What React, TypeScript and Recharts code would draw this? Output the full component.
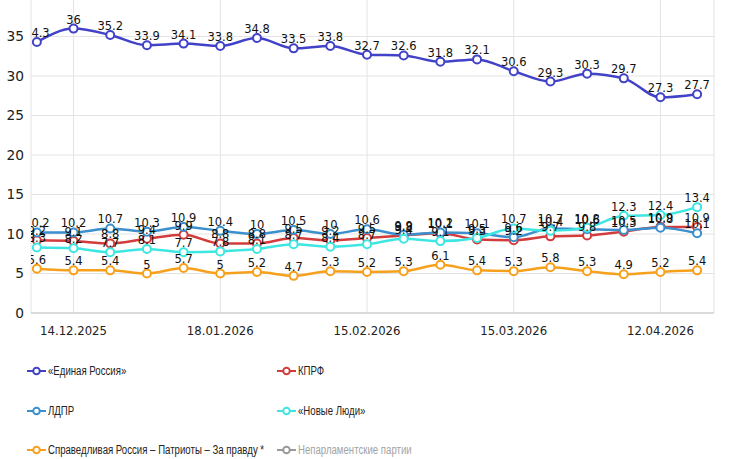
import { LineChart, Line, XAxis, YAxis, CartesianGrid, LabelList } from "recharts";

const dates = [
  "07.12.2025", "14.12.2025", "21.12.2025", "28.12.2025", "11.01.2026",
  "18.01.2026", "25.01.2026", "01.02.2026", "08.02.2026", "15.02.2026",
  "22.02.2026", "01.03.2026", "08.03.2026", "15.03.2026", "22.03.2026",
  "29.03.2026", "05.04.2026", "12.04.2026", "19.04.2026",
];
const tickIdx = [1, 5, 9, 13, 17];
const yTicks = [0, 5, 10, 15, 20, 25, 30, 35];

const er = [34.3, 36, 35.2, 33.9, 34.1, 33.8, 34.8, 33.5, 33.8, 32.7, 32.6, 31.8, 32.1, 30.6, 29.3, 30.3, 29.7, 27.3, 27.7];
const kprf = [9.2, 9.1, 8.8, 9.4, 9.9, 8.8, 8.8, 9.5, 9.2, 9.5, 9.8, 10.1, 9.3, 9.2, 9.7, 9.8, 10.3, 10.9, 10.9];
const ldpr = [10.2, 10.2, 10.7, 10.3, 10.9, 10.4, 10, 10.5, 10, 10.6, 9.9, 10.2, 10.1, 9.6, 10.7, 10.6, 10.5, 10.8, 10.1];
const newPeople = [8.3, 8.2, 7.7, 8.1, 7.7, 7.8, 8.1, 8.7, 8.4, 8.7, 9.4, 9.1, 9.5, 10.7, 10.4, 10.8, 12.3, 12.4, 13.4];
const sr = [5.6, 5.4, 5.4, 5, 5.7, 5, 5.2, 4.7, 5.3, 5.2, 5.3, 6.1, 5.4, 5.3, 5.8, 5.3, 4.9, 5.2, 5.4];

const series = [
  { key: "er", name: "«Единая Россия»", color: "#4242c8", values: er },
  { key: "kprf", name: "КПРФ", color: "#d23c3c", values: kprf },
  { key: "ldpr", name: "ЛДПР", color: "#3b8fcc", values: ldpr },
  { key: "np", name: "«Новые Люди»", color: "#3ee6e2", values: newPeople },
  { key: "sr", name: "Справедливая Россия – Патриоты – За правду *", color: "#f7a01c", values: sr },
];
const hiddenSeries = { name: "Непарламентские партии", color: "#9a9a9a" };

const data = dates.map((d, i) => {
  const row: Record<string, number | string> = { idx: i, date: d };
  series.forEach((s) => {
    row[s.key] = s.values[i];
  });
  return row;
});

const legendItems = [
  { ...series[0], col: 0, row: 0 },
  { ...series[1], col: 1, row: 0 },
  { ...series[2], col: 0, row: 1 },
  { ...series[3], col: 1, row: 1 },
  { ...series[4], col: 0, row: 2 },
  { ...hiddenSeries, key: "other", col: 1, row: 2, muted: true },
];

const font = "'DejaVu Sans', Verdana, sans-serif";

// labels are cut at the left edge of the plot, like in the original
const PointLabel = (props: any) => {
  const { x, y, value, index, withDefs } = props;
  return (
    <g clipPath="url(#plot-clip)">
      {withDefs && index === 0 && (
        <defs>
          <clipPath id="plot-clip">
            <rect x={31} y={-20} width={700} height={400} />
          </clipPath>
        </defs>
      )}
      <text
        x={x}
        y={y - 5}
        textAnchor="middle"
        fill="#111"
        fontSize={11.5}
        fontFamily={font}
      >
        {value}
      </text>
    </g>
  );
};

const LegendMarker = ({ color }: { color: string }) => (
  <svg width={19} height={10} style={{ display: "block", flex: "none" }}>
    <line x1={0} y1={5} x2={19} y2={5} stroke={color} strokeWidth={2} />
    <circle cx={9.5} cy={5} r={3.3} fill="#fff" stroke={color} strokeWidth={2} />
  </svg>
);

export default function App() {
  return (
    <div style={{ position: "absolute", left: 0, top: 0, width: 730, height: 459, background: "#fff", overflow: "hidden" }}>
      <div style={{ position: "absolute", left: 0, top: -3 }}>
        <LineChart width={730} height={346} data={data} margin={{ top: 0, right: 16, bottom: 0, left: 0 }}>
          <CartesianGrid stroke="#e3e3e3" strokeWidth={1} />
          <XAxis
            dataKey="idx"
            type="number"
            domain={[-0.16, 18.46]}
            ticks={tickIdx}
            tickFormatter={(v: number) => dates[v]}
            height={30}
            tickSize={0}
            tickMargin={14}
            stroke="#c4c4c4"
            tick={{ fill: "#222", fontSize: 11.7, fontFamily: font }}
          />
          <YAxis
            domain={[0, 40]}
            ticks={yTicks}
            width={31}
            axisLine={false}
            tickLine={false}
            tickSize={0}
            tickMargin={7}
            tick={{ fill: "#222", fontSize: 13.8, fontFamily: font }}
          />
          {series.map((s, si) => (
            <Line
              key={s.key}
              dataKey={s.key}
              name={s.name}
              type="monotone"
              stroke={s.color}
              strokeWidth={2.5}
              dot={{ r: 4, fill: "#fff", stroke: s.color, strokeWidth: 2 }}
              isAnimationActive={false}
            >
              <LabelList
                dataKey={s.key}
                content={(p: any) => <PointLabel {...p} withDefs={si === 0} />}
              />
            </Line>
          ))}
        </LineChart>
      </div>
      {legendItems.map((it) => (
        <div
          key={it.key}
          style={{
            position: "absolute",
            left: it.col === 0 ? 27 : 277,
            top: [371, 411, 450][it.row] - 8,
            height: 16,
            display: "flex",
            alignItems: "center",
            gap: 2,
            fontFamily: "'Liberation Sans', Arial, sans-serif",
            fontSize: 12.5,
            color: it.muted ? "#a3a3a3" : "#222",
            whiteSpace: "nowrap",
          }}
        >
          <LegendMarker color={it.color} />
          <span style={{ display: "inline-block", transform: "scaleX(0.77)", transformOrigin: "left center" }}>
            {it.name}
          </span>
        </div>
      ))}
    </div>
  );
}
